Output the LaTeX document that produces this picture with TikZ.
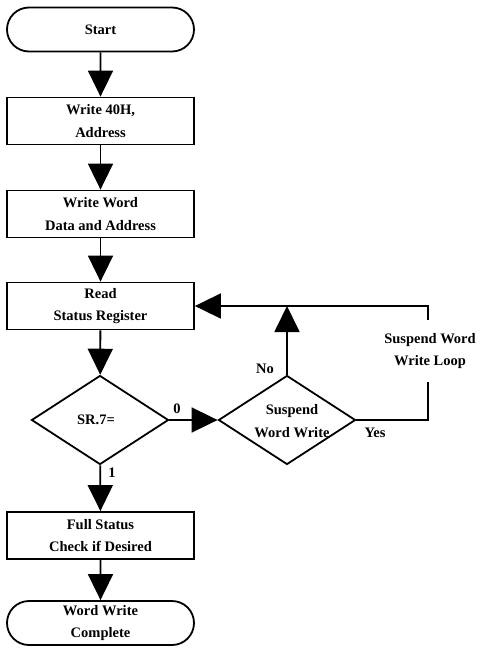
\documentclass[tikz,border=0pt]{standalone}
\usepackage{fontspec}
\setmainfont{Liberation Serif}
\usetikzlibrary{arrows.meta,shapes.misc,shapes.geometric}
\begin{document}
\begin{tikzpicture}[x=1pt,y=-1pt,
  line width=1.8pt,
  every node/.style={font=\fontsize{14.5}{22.5}\selectfont\bfseries, align=center},
  box/.style={draw, rectangle, minimum width=187pt, minimum height=47pt, inner sep=0pt},
  term/.style={draw, rounded rectangle, minimum width=187pt, minimum height=44pt, inner sep=0pt},
  decide/.style={draw, diamond, aspect=1.5, minimum width=137pt, minimum height=89pt, inner sep=0pt},
  flow/.style={-{Triangle[width=25pt,length=26pt]}},
  lbl/.style={inner sep=1pt}]
\useasboundingbox (0,0) rectangle (485,651);

% main column
\node[term] (start) at (100.5,29.5) {Start};
\node[box]  (b1) at (100.5,121) {Write 40H,\\Address};
\node[box]  (b2) at (100.5,214) {Write Word\\Data and Address};
\node[box]  (b3) at (100.5,306) {Read\\Status Register};
\node[decide] (d1) at (100,420) {};
\node at (96,420) {SR.7=};
\node[box]  (b4) at (100.5,535.5) {Full Status\\Check if Desired};
\node[term] (done) at (100.5,623) {Word Write\\Complete};

% suspend branch
\node[decide] (d2) at (287,420) {};
\node at (292,421) {Suspend\\Word Write};
\coordinate (join) at (287,306);
\coordinate (cr) at (428,420);
\coordinate (ct) at (428,306);

\draw[flow] (start) -- (b1);
\draw[flow] (b1) -- (b2);
\draw[flow] (b2) -- (b3);
\draw[flow] (b3) -- (d1);
\draw[flow] (d1) -- (b4);
\draw[flow] (b4) -- (done);
\draw[flow] (d1.east) -- (d2.west);
\draw[flow] (d2.north) -- (join);
\draw (d2.east) -- (cr) -- (ct) -- (join);
\draw[flow] (join) -- (b3.east);

\node[fill=white, inner sep=0pt, minimum height=62pt] (loop) at (430,351) {Suspend Word\\Write Loop};

% branch labels
\node[lbl] (l0) at (177,409) {0};
\node[lbl] (l1) at (112,473) {1};
\node[lbl] (lno) at (265,369) {No};
\node[lbl] (lyes) at (375,433) {Yes};
\end{tikzpicture}
\end{document}
